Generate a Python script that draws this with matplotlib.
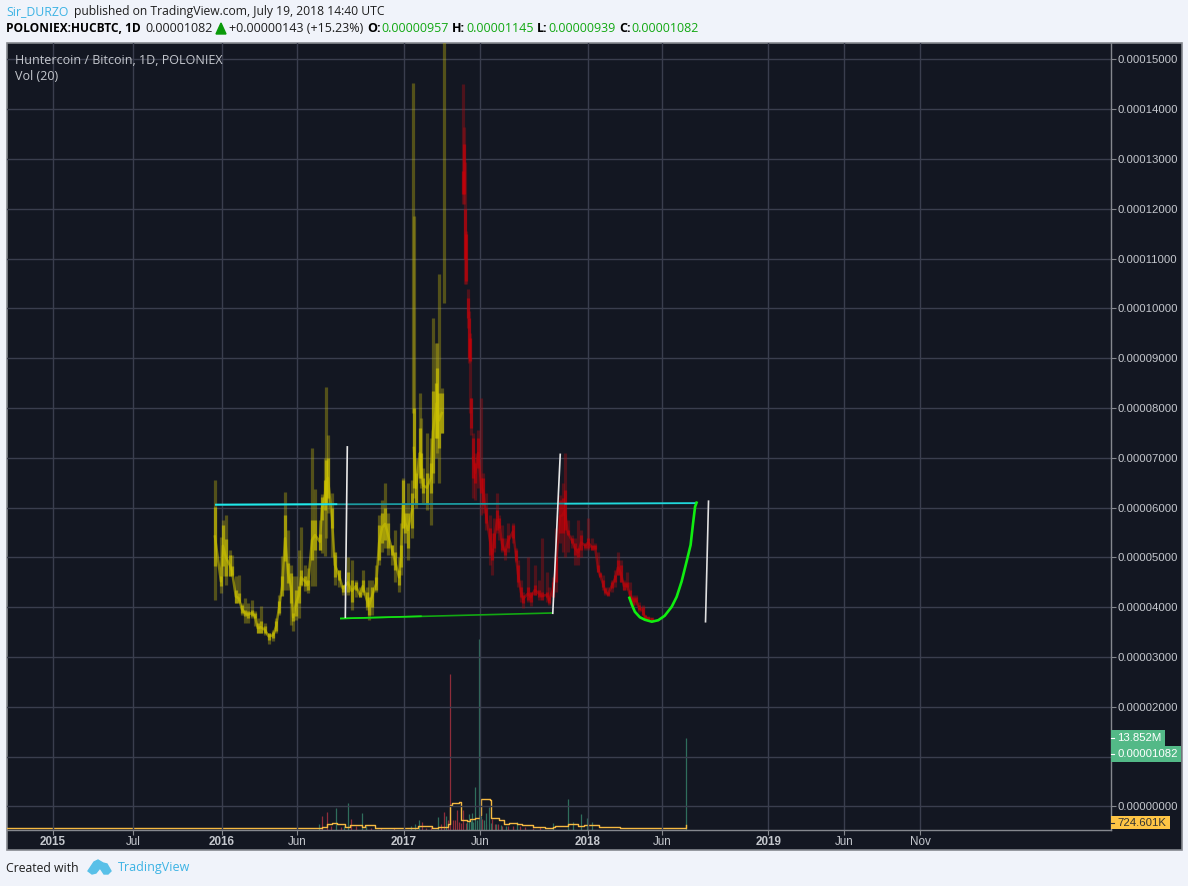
import matplotlib
matplotlib.use('Agg')
import numpy as np
import matplotlib.pyplot as plt
from matplotlib.patches import Rectangle, Polygon
from matplotlib.lines import Line2D

W, H = 1188, 886

# price in units of 0.00001 BTC, x in days from 2016-01-01
up_days = [-14, -2, 2, 8, 16, 20, 28, 34, 40, 46, 52, 60, 66, 72, 78, 86, 94, 103, 109, 115, 121, 127, 133, 139, 143,
           149, 155, 159, 167, 173, 181, 187, 197, 201, 207, 209, 213, 221, 227, 235, 243, 253, 261, 269, 277, 283,
           291, 295, 301, 310, 316, 322, 328, 334, 342, 348, 356, 360, 364, 368, 374, 382, 384, 386, 390, 398, 400,
           404, 412, 420, 424, 430, 432, 436, 442, 446]
up_high = [6.55, 5.42, 5.75, 5.85, 5.15, 5.05, 4.62, 4.65, 4.08, 4.18, 4.08, 4.15, 3.92, 3.78, 4.02, 3.68, 3.48, 3.55,
           3.78, 4.25, 5.02, 6.32, 5.55, 4.85, 4.62, 4.62, 5.15, 5.62, 4.85, 4.78, 7.2, 6.38, 5.75, 6.28, 7.0, 8.42,
           7.45, 6.3, 5.05, 4.75, 4.45, 5.0, 4.95, 4.55, 4.4, 4.75, 4.4, 4.55, 4.55, 4.85, 5.85, 6.15, 6.5, 5.9, 5.25,
           5.55, 5.0, 5.7, 6.6, 6.1, 6.5, 6.55, 14.52, 11.85, 7.0, 8.3, 7.8, 6.8, 7.5, 7.4, 9.8, 9.3, 9.3, 10.7, 8.4,
           15.4]
up_low = [4.15, 4.28, 4.62, 4.45, 4.62, 4.62, 4.08, 4.12, 3.85, 3.68, 3.68, 3.78, 3.62, 3.48, 3.48, 3.45, 3.27, 3.32,
          3.48, 3.85, 4.35, 4.35, 4.35, 3.65, 3.52, 3.75, 3.78, 4.42, 4.32, 4.28, 4.42, 4.42, 5.15, 5.08, 5.02, 5.4,
          5.9, 5.0, 4.45, 4.4, 4.25, 4.25, 3.95, 4.2, 4.2, 4.25, 3.95, 3.75, 3.85, 4.3, 4.85, 5.1, 5.2, 5.05, 4.85,
          4.5, 4.3, 4.65, 5.6, 5.3, 4.95, 5.4, 7.9, 6.2, 6.0, 6.5, 6.4, 6.1, 5.95, 5.65, 6.5, 7.0, 7.1, 6.5, 7.5,
          10.1]
up_top = [6.02, 4.62, 5.65, 5.38, 5.05, 4.82, 4.35, 4.28, 4.05, 3.95, 3.92, 3.95, 3.88, 3.68, 3.72, 3.62, 3.48, 3.5,
          3.72, 4.12, 4.62, 5.85, 4.88, 4.68, 3.88, 4.35, 4.42, 4.75, 4.62, 4.55, 5.75, 5.75, 5.48, 6.22, 6.55, 6.95,
          7.0, 6.0, 5.1, 4.75, 4.45, 4.7, 4.55, 4.5, 4.3, 4.55, 4.3, 4.2, 4.4, 4.6, 5.65, 5.9, 6.0, 5.7, 5.25, 5.1,
          4.75, 5.25, 6.55, 5.9, 5.9, 6.3, 7.9, 8.0, 6.7, 7.6, 7.1, 6.6, 6.7, 6.9, 8.35, 8.5, 8.8, 8.3, 8.3, 10.1]
up_bot = [4.82, 4.42, 4.82, 4.62, 4.63, 4.65, 4.08, 4.08, 3.88, 3.82, 3.78, 3.82, 3.78, 3.48, 3.48, 3.48, 3.35, 3.38,
          3.52, 3.88, 4.22, 4.92, 4.48, 4.08, 3.72, 3.82, 4.08, 4.45, 4.42, 4.35, 4.95, 5.15, 5.15, 5.75, 5.95, 6.1,
          6.2, 5.6, 4.6, 4.55, 4.3, 4.3, 4.1, 4.35, 4.2, 4.3, 4.0, 3.85, 4.0, 4.35, 4.95, 5.3, 5.35, 5.2, 5.05, 4.75,
          4.45, 4.8, 5.6, 5.5, 5.2, 5.6, 7.9, 6.4, 6.1, 6.6, 6.6, 6.3, 6.1, 6.3, 6.7, 7.4, 7.4, 7.2, 7.5, 10.1]

down_days = [484, 486, 488, 490, 494, 496, 498, 500, 505, 509, 515, 521, 525, 531, 539, 543, 547, 553, 557, 563, 569,
             575, 585, 591, 595, 601, 605, 615, 621, 629, 637, 643, 653, 657, 665, 671, 679, 685, 689, 695, 703, 710,
             716, 722, 730, 736, 744, 750, 756, 760, 766, 770, 776, 784, 790, 796, 802, 808, 814, 820, 826, 832, 838,
             846, 850, 856, 864]
down_high = [14.5, 13.65, 12.95, 11.55, 10.4, 9.95, 9.5, 8.2, 7.5, 7.1, 7.55, 8.2, 6.7, 6.3, 5.85, 5.5, 5.8, 6.3, 5.85,
             5.65, 5.4, 5.7, 5.7, 5.2, 4.95, 4.55, 4.3, 5.0, 4.3, 4.85, 4.55, 5.4, 4.7, 4.4, 4.6, 5.6, 6.25, 6.5, 7.1,
             5.75, 5.45, 5.4, 5.75, 5.55, 5.3, 5.8, 5.4, 5.3, 5.1, 4.7, 4.65, 4.4, 4.4, 4.55, 4.75, 5.1, 4.95, 4.55,
             4.7, 4.5, 4.25, 4.25, 4.1, 4.05, 3.85, 3.82, 3.8]
down_low = [12.1, 12.1, 10.5, 10.5, 9.6, 8.9, 7.9, 7.45, 6.2, 6.15, 6.4, 5.85, 5.9, 5.55, 4.85, 4.65, 5.1, 5.5, 5.35,
            5.1, 4.95, 5.1, 5.3, 4.9, 4.4, 4.1, 3.98, 4.1, 4.03, 4.25, 4.15, 4.2, 4.1, 4.05, 4.2, 4.3, 5.3, 5.1, 5.0,
            5.1, 5.2, 4.85, 4.85, 5.0, 5.15, 5.15, 5.15, 5.15, 4.7, 4.62, 4.35, 4.25, 4.25, 4.3, 4.4, 4.65, 4.5, 4.35,
            4.35, 4.15, 4.02, 4.05, 3.9, 3.85, 3.75, 3.72, 3.72]
down_top = [12.75, 13.3, 12.0, 11.5, 10.2, 9.8, 9.4, 8.2, 7.4, 6.9, 7.4, 6.6, 6.6, 6.0, 5.6, 5.2, 5.5, 5.95, 5.8, 5.4,
            5.2, 5.45, 5.65, 5.15, 4.85, 4.4, 4.25, 4.4, 4.3, 4.45, 4.35, 4.3, 4.3, 4.2, 4.5, 5.0, 6.15, 6.2, 6.35,
            5.55, 5.4, 5.3, 5.2, 5.45, 5.28, 5.4, 5.25, 5.25, 4.85, 4.68, 4.55, 4.38, 4.3, 4.5, 4.65, 4.95, 4.85, 4.5,
            4.5, 4.35, 4.2, 4.2, 4.05, 4.0, 3.85, 3.8, 3.78]
down_bot = [12.3, 12.3, 11.0, 10.55, 9.8, 9.0, 8.95, 7.6, 6.6, 6.5, 6.8, 6.3, 6.05, 5.7, 5.05, 4.95, 5.2, 5.55, 5.6,
            5.15, 5.05, 5.2, 5.4, 4.95, 4.5, 4.2, 4.08, 4.15, 4.1, 4.25, 4.2, 4.15, 4.2, 4.08, 4.2, 4.5, 5.5, 5.5, 5.55,
            5.45, 5.3, 5.05, 5.0, 5.15, 5.2, 5.2, 5.15, 5.18, 4.7, 4.6, 4.4, 4.28, 4.22, 4.38, 4.5, 4.65, 4.5, 4.35,
            4.4, 4.15, 4.05, 4.1, 3.95, 3.85, 3.75, 3.75, 3.74]

# volume, millions
vol_red_days = [202, 211, 220, 240, 259, 270, 290, 300, 320, 345, 402, 410, 420, 440, 447, 455, 459, 464, 468, 472, 476,
                480, 485, 490, 522, 530, 542, 548, 555, 563, 575, 585, 600, 610, 625, 640]
vol_red = [2.1, 2.6, 0.6, 0.4, 1.6, 0.5, 0.4, 0.3, 0.3, 0.3, 1.1, 0.3, 0.4, 0.8, 2.7, 1.5, 23.7, 1.5, 1.4, 3.0, 1.2, 1.0,
           3.0, 1.0, 1.6, 0.9, 1.6, 0.9, 0.8, 0.6, 0.5, 0.6, 0.5, 0.4, 0.3, 0.4]
vol_green_days = [195, 230, 245, 254, 282, 290, 380, 388, 397, 435, 450, 492, 497, 500, 503, 505, 509, 513, 517, 520,
                  526, 531, 536, 540, 550, 560, 570, 594, 666, 696, 706, 722, 733, 743, 932]
vol_green = [0.8, 3.2, 0.5, 4.0, 2.5, 0.5, 0.6, 0.8, 1.4, 1.9, 2.0, 1.1, 2.4, 1.3, 2.5, 1.2, 6.4, 1.5, 28.9, 2.0, 1.5,
             2.5, 3.4, 1.0, 0.8, 0.7, 0.6, 1.2, 1.0, 4.6, 1.2, 2.4, 1.8, 1.1, 13.85]
ma_days = [-432, 40, 42, 75, 157, 190, 201, 211, 221, 231, 241, 247, 257, 274, 281, 288, 301, 308, 385, 395, 412, 422,
           435, 448, 455, 459, 462, 472, 477, 481, 492, 499, 509, 519, 520, 529, 538, 540, 556, 566, 576, 593, 603, 616,
           626, 643, 649, 666, 670, 690, 696, 710, 716, 727, 743, 757, 800, 814, 847, 864, 931, 932]
ma_vol = [0.2, 0.3, 0.3, 0.2, 0.2, 0.25, 0.45, 0.86, 1.0, 0.9, 0.86, 0.35, 0.66, 0.66, 0.35, 0.66, 0.66, 0.25, 0.25,
          0.5, 0.5, 0.25, 0.35, 0.4, 0.86, 3.65, 4.0, 4.1, 4.2, 1.37, 1.27, 1.57, 1.78, 2.13, 4.66, 4.7, 4.56, 1.7, 1.37,
          0.86, 0.96, 0.86, 0.7, 0.66, 0.35, 0.35, 0.25, 0.35, 0.5, 0.5, 0.86, 0.86, 0.6, 0.7, 0.7, 0.35, 0.25, 0.2,
          0.25, 0.2, 0.2, 0.72]

# hand drawn lines on the chart
cyan_x, cyan_y = [-12, 951], [6.06, 6.09]
cyan_left_x, cyan_left_y = [-12, 230], [6.06, 6.07]
cyan_right_x, cyan_right_y = [690, 951], [6.08, 6.09]
flat_x, flat_y = [239, 663], [3.775, 3.885]
flat_left_x, flat_left_y = [239, 400], [3.775, 3.82]
white1_x, white1_y = [248, 252], [3.80, 7.22]
white2_x, white2_y = [665, 680], [3.88, 7.07]
white3_x, white3_y = [972, 978], [3.71, 6.13]
cup_x = [819, 824, 830, 840, 850, 864, 877, 890, 904, 914, 924, 934, 942, 947, 951, 954]
cup_y = [4.19, 4.05, 3.91, 3.80, 3.75, 3.71, 3.74, 3.83, 4.01, 4.21, 4.52, 4.92, 5.25, 5.69, 6.02, 6.10]

date_ticks = [-340, -179, 0, 151, 366, 519, 735, 884, 1098, 1251, 1404]
date_labels = ['2015', 'Jul', '2016', 'Jun', '2017', 'Jun', '2018', 'Jun', '2019', 'Jun', 'Nov']
price_ticks = list(range(0, 16))

BG = '#131722'
GRID = '#3a3e4e'
AXIS = '#85888f'
TXT = '#c5c8ce'
BLUE = '#3bb3e4'
GREEN = '#12a812'


def fx(px):
    return px / W


def fy(py):
    return 1 - py / H


def scaled(values):
    return np.array(values) * 1e-5


def mids(tops, bots):
    return (scaled(tops) + scaled(bots)) / 2


fig = plt.figure(figsize=(W / 100, H / 100), dpi=100, facecolor='#f0f3fa')
fig.add_artist(Rectangle((fx(6.5), fy(849.5)), 1175 / W, 806.5 / H, transform=fig.transFigure,
                         facecolor=BG, edgecolor=AXIS, lw=1.2, zorder=-5))

ax = fig.add_axes([fx(7), fy(829.5), 1104 / W, 786.5 / H], facecolor='none')
ax.set_xlim(-432, 1787)
ax.set_ylim(-0.462e-5, 15.33e-5)

# volume pane shares the same box
vax = ax.twinx()
vax.set_ylim(0, 119.6)
vax.axis('off')
vax.vlines(vol_red_days, 0, vol_red, color='#8f2d3a', lw=0.9, capstyle='butt')
vax.vlines(vol_green_days, 0, vol_green, color='#2f6e5c', lw=0.9, capstyle='butt')
vax.step(ma_days, ma_vol, where='post', color='#f5b942', lw=1)

ax.set_xticks(date_ticks)
ax.set_xticklabels(date_labels)
for lab, txt in zip(ax.get_xticklabels(), date_labels):
    lab.set_fontweight('bold' if txt.isdigit() else 'normal')
ax.set_yticks(scaled(price_ticks))
ax.set_yticklabels(['' if v == 1 else f'{v * 1e-5:.8f}' for v in price_ticks])
ax.yaxis.tick_right()
ax.tick_params(axis='both', colors=AXIS, labelcolor=TXT, length=3.5, width=0.8)
ax.tick_params(axis='x', pad=1.5, labelsize=8.4)
ax.tick_params(axis='y', pad=1.5, labelsize=8.2)
for lab in ax.get_xticklabels() + ax.get_yticklabels():
    lab.set_fontfamily('Liberation Sans')
ax.grid(True, color=GRID, lw=1)
ax.set_axisbelow(True)
for side in ['top', 'left']:
    ax.spines[side].set_visible(False)
for side in ['right', 'bottom']:
    ax.spines[side].set_color(AXIS)
    ax.spines[side].set_linewidth(1)

# candles
ax.set_zorder(vax.get_zorder() + 1)
ax.vlines(up_days, scaled(up_low), scaled(up_high), color='#b5aa10', alpha=0.4, lw=2.3, capstyle='butt')
ax.vlines(up_days, scaled(up_bot), scaled(up_top), color='#d6cc00', alpha=0.6, lw=2.3, capstyle='butt')
ax.plot(up_days[:62], mids(up_top, up_bot)[:62], color='#c9bf00', alpha=0.6, lw=1.8)
ax.plot(up_days[63:-1], mids(up_top, up_bot)[63:-1], color='#c9bf00', alpha=0.6, lw=1.8)
ax.vlines(down_days, scaled(down_low), scaled(down_high), color='#a80d14', alpha=0.4, lw=2.3, capstyle='butt')
ax.vlines(down_days, scaled(down_bot), scaled(down_top), color='#cc0008', alpha=0.6, lw=2.3, capstyle='butt')
ax.plot(down_days[8:], mids(down_top, down_bot)[8:], color='#b8060c', alpha=0.6, lw=1.8)

# drawings
ax.plot(cyan_x, scaled(cyan_y), color='#1b9aa0', lw=1.3)
ax.plot(cyan_left_x, scaled(cyan_left_y), color='#20eaea', lw=1.3)
ax.plot(cyan_right_x, scaled(cyan_right_y), color='#20d8dc', lw=1.1)
ax.plot(flat_x, scaled(flat_y), color='#12a812', lw=1.2)
ax.plot(flat_left_x, scaled(flat_left_y), color='#14e014', lw=1.2)
ax.plot(white1_x, scaled(white1_y), color='#e8e8e8', lw=1.2)
ax.plot(white2_x, scaled(white2_y), color='#e8e8e8', lw=1.2)
ax.plot(white3_x, scaled(white3_y), color='#e0e0e0', lw=1.2)
ax.plot(cup_x, scaled(cup_y), color='#10ee10', lw=1.9)


def put(px, py, s, color='black', size=9, weight='normal', family='Open Sans', ha='left', zorder=6):
    fig.text(fx(px), fy(py), s, color=color, fontsize=size, fontweight=weight, family=family,
             ha=ha, va='center', zorder=zorder)


# header
put(6, 12, 'Sir_DURZO', BLUE, size=8.8)
put(73.5, 12, 'published on TradingView.com, July 19, 2018 14:40 UTC', '#1e1e1e', size=8.7)
put(6, 29, 'POLONIEX:HUCBTC, 1D', 'black', weight='bold', size=8.6)
put(145, 29, '0.00001082', '#1e1e1e')
fig.add_artist(Polygon([(fx(216), fy(34)), (fx(226), fy(34)), (fx(221), fy(23))], closed=True,
                       transform=fig.transFigure, color='#0a9a0a'))
put(229, 29, '+0.00000143 (+15.23%)', '#1e1e1e')
for px, lab, vx, val in [(367, 'O:', 381.5, '0.00000957'), (452, 'H:', 466, '0.00001145'),
                         (537, 'L:', 548, '0.00000939'), (619, 'C:', 631, '0.00001082')]:
    put(px, 29, lab, 'black', weight='bold')
    put(vx, 29, val, GREEN)

# legend in the pane
put(15, 60, 'Huntercoin / Bitcoin, 1D, POLONIEX', TXT)
put(15, 77, 'Vol (20)', TXT)

# last value labels
for y0, y1, x1, col, s, tcol in [(730, 746, 1165, '#53b987', '13.852M', 'white'),
                                 (746, 762, 1181, '#53b987', '0.00001082', 'white'),
                                 (816, 829, 1170, '#ffc545', '724.601K', '#333333')]:
    fig.add_artist(Rectangle((fx(1111), fy(y1)), (x1 - 1111) / W, (y1 - y0) / H, transform=fig.transFigure,
                             facecolor=col, edgecolor='none', zorder=5))
    fig.add_artist(Line2D([fx(1111), fx(1114)], [fy((y0 + y1) / 2)] * 2, transform=fig.transFigure,
                          color=tcol, lw=0.8, zorder=6))
    put(1117, (y0 + y1) / 2, s, tcol, size=8.2, family='Liberation Sans')

# footer
put(6, 868, 'Created with', '#1e1e1e', size=8.8)
put(118, 868, 'TradingView', BLUE)
logo = [(88, 871), (94, 862), (98, 860), (103, 863), (107, 864), (111, 871), (108, 874), (104, 874), (100, 868),
        (96, 873), (92, 874)]
fig.add_artist(Polygon([(fx(a), fy(b)) for a, b in logo], closed=True, transform=fig.transFigure,
                       color='#58c0e8'))

fig.savefig('out.png', dpi=100, facecolor=fig.get_facecolor())
